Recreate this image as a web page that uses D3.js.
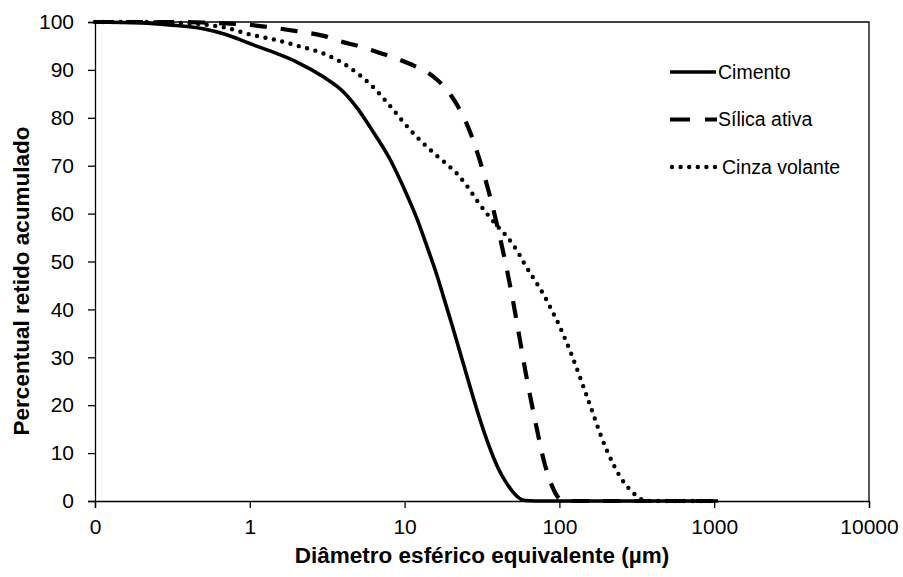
<!DOCTYPE html>
<html>
<head>
<meta charset="utf-8">
<script src="https://cdn.jsdelivr.net/npm/d3@7"></script>
<style>
  body { margin: 0; background: #fff; }
  svg { display: block; font-family: "Liberation Sans", Arial, sans-serif; }
</style>
</head>
<body>
<div id="chart"></div>
<script>
'use strict';

// diametro (um) and percentual retido acumulado
const diameters = [0.1, 0.2, 0.3, 0.5, 0.7, 1, 1.5, 2, 3, 4, 5, 6, 8, 10, 12, 14, 16, 18, 20, 22, 25, 30, 35, 40, 45, 50, 55, 60, 70, 80, 90, 100, 110, 120, 150, 200, 250, 300, 350, 400, 500, 700, 1000, 1060];

const cimento = [100, 99.8, 99.4, 98.6, 97.4, 95.5, 93.4, 91.7, 88.5, 85.5, 81.8, 78, 71.5, 65, 59, 53, 47.6, 42.2, 37.3, 32.8, 26.6, 18, 11.6, 7, 4, 1.9, 0.6, 0.1, 0, 0, 0, 0, 0, 0, 0, 0, 0, 0, 0, 0, 0, 0, 0, 0];

const silicaAtiva = [100, 100, 100, 99.9, 99.7, 99.4, 98.7, 98.1, 97.1, 95.8, 95, 94.2, 92.9, 91.7, 90.6, 89.5, 88.1, 86.5, 84.6, 82.5, 79, 72, 64.5, 57, 49.5, 42, 34.5, 27.5, 16.5, 8, 3, 0.5, 0, 0, 0, 0, 0, 0, 0, 0, 0, 0, 0, 0];

const cinzaVolante = [100, 100, 99.9, 99.5, 98.8, 97.4, 96.2, 95.1, 93.4, 91.4, 89.2, 87, 82.6, 78.8, 76, 73.9, 72.2, 70.8, 69.5, 68.2, 66, 62.3, 59.5, 57.3, 55.5, 53.6, 51.5, 49.3, 45.9, 42.8, 39.6, 36.6, 33.5, 30.5, 22, 11, 4.8, 1.7, 0.2, 0, 0, 0, 0, 0];

const seriesNames = ["Cimento", "Sílica ativa", "Cinza volante"];
const xTicks = [0.1, 1, 10, 100, 1000, 10000];
const xTickLabels = ["0", "1", "10", "100", "1000", "10000"];
const yTicks = [0, 10, 20, 30, 40, 50, 60, 70, 80, 90, 100];

const width = 903, height = 577;
const margin = {left: 95, right: 34, top: 22, bottom: 76};

const svg = d3.select("#chart").append("svg")
  .attr("width", width)
  .attr("height", height);

const x = d3.scaleLog()
  .domain([0.1, 10000])
  .range([margin.left, width - margin.right]);

const y = d3.scaleLinear()
  .domain([0, 100])
  .range([height - margin.bottom, margin.top]);

// plot frame (top and right)
svg.append("path")
  .attr("fill", "none")
  .attr("stroke", "#000")
  .attr("stroke-width", 1.3)
  .attr("d", `M${x(0.1)},${y(100)}H${x(10000)}V${y(0)}`);

// axes
const xAxis = d3.axisBottom(x)
  .tickValues(xTicks)
  .tickFormat((d, i) => xTickLabels[i])
  .tickSize(7)
  .tickPadding(11);

const yAxis = d3.axisLeft(y)
  .tickValues(yTicks)
  .tickSize(7)
  .tickPadding(14);

const gx = svg.append("g")
  .attr("transform", `translate(0,${y(0)})`)
  .call(xAxis);

const gy = svg.append("g")
  .attr("transform", `translate(${x(0.1)},0)`)
  .call(yAxis);

[gx, gy].forEach(g => {
  g.select(".domain").attr("stroke", "#000").attr("stroke-width", 1.3);
  g.selectAll(".tick line").attr("stroke", "#000").attr("stroke-width", 1.3);
  g.selectAll(".tick text")
    .attr("fill", "#000")
    .style("font-size", "21px")
    .style("font-family", "'Liberation Sans', Arial, sans-serif");
});

// series
const styles = [
  {dash: null, width: 3.6, cap: "butt"},
  {dash: "17,14", width: 4.2, cap: "butt"},
  {dash: "0,8.6", width: 4.4, cap: "round"}
];
const values = [cimento, silicaAtiva, cinzaVolante];

const line = d3.line()
  .x(d => x(d[0]))
  .y(d => y(d[1]))
  .curve(d3.curveMonotoneX);

// draw in reverse so the solid line sits on top
[2, 1, 0].forEach(i => {
  const pts = diameters.map((d, j) => [d, values[i][j]]);
  svg.append("path")
    .datum(pts)
    .attr("fill", "none")
    .attr("stroke", "#000")
    .attr("stroke-width", styles[i].width)
    .attr("stroke-linecap", styles[i].cap)
    .attr("stroke-linejoin", "round")
    .attr("stroke-dasharray", styles[i].dash)
    .attr("d", line);
});

// legend
const legend = svg.append("g").attr("transform", "translate(670,72)");
seriesNames.forEach((name, i) => {
  const row = legend.append("g").attr("transform", `translate(0,${i * 47.5})`);
  row.append("line")
    .attr("x1", i === 2 ? 2 : 0).attr("x2", i === 1 ? 47 : 46)
    .attr("stroke", "#000")
    .attr("stroke-width", styles[i].width)
    .attr("stroke-linecap", styles[i].cap)
    .attr("stroke-dasharray", i === 1 ? "20,15" : i === 2 ? "0,8.6" : null);
  row.append("text")
    .attr("x", i === 2 ? 52 : 48)
    .attr("dy", "0.35em")
    .style("font-size", "19.5px")
    .text(name);
});

// axis titles
svg.append("text")
  .attr("x", (x(0.1) + x(10000)) / 2)
  .attr("y", 563)
  .attr("text-anchor", "middle")
  .style("font-size", "22.5px")
  .style("font-weight", "bold")
  .text("Diâmetro esférico equivalente (µm)");

svg.append("text")
  .attr("transform", "translate(29,281) rotate(-90)")
  .attr("text-anchor", "middle")
  .style("font-size", "22.5px")
  .style("font-weight", "bold")
  .text("Percentual retido acumulado");
</script>
</body>
</html>
